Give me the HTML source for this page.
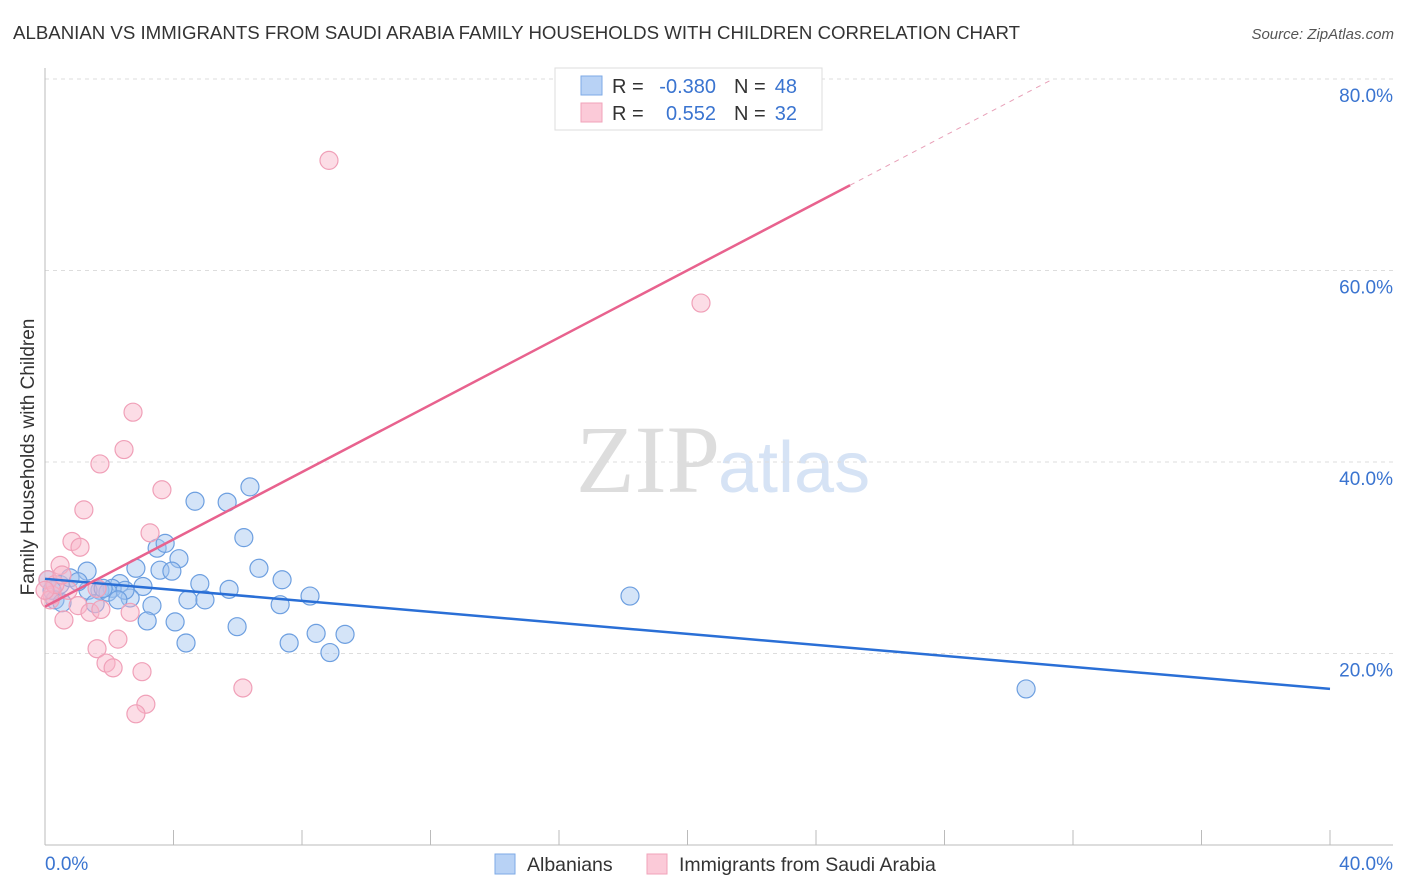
<!DOCTYPE html>
<html><head><meta charset="utf-8"><style>
body{margin:0;background:#fff;font-family:"Liberation Sans",sans-serif}
svg{display:block}
</style></head><body>
<svg id="c" width="1406" height="892">
<text x="13" y="39" font-size="18" textLength="1007" lengthAdjust="spacingAndGlyphs" fill="#333">ALBANIAN VS IMMIGRANTS FROM SAUDI ARABIA FAMILY HOUSEHOLDS WITH CHILDREN CORRELATION CHART</text>
<text x="1394" y="39" font-size="15" fill="#555" font-style="italic" text-anchor="end">Source: ZipAtlas.com</text>
<text x="720" y="492" font-size="96" fill="#ddd" font-family="Liberation Serif,serif" text-anchor="end">ZIP</text>
<text x="718" y="492" font-size="72" fill="#d6e3f5">atlas</text>
<text transform="translate(34,457) rotate(-90)" font-size="19" fill="#333" text-anchor="middle">Family Households with Children</text>
<g id="grid"></g><g id="marks"></g>
<g>
<rect x="555" y="68" width="267" height="62" fill="#fff" stroke="#ddd"/>
<rect x="581" y="76" width="21" height="19" fill="#b8d2f5" stroke="#7eaae6"/>
<rect x="581" y="103" width="21" height="19" fill="#fbcad8" stroke="#f0a3ba"/>
<text x="612" y="93" font-size="20" fill="#333">R =</text>
<text x="716" y="93" font-size="20" fill="#3a74d0" text-anchor="end">-0.380</text>
<text x="734" y="93" font-size="20" fill="#333">N =</text>
<text x="797" y="93" font-size="20" fill="#3a74d0" text-anchor="end">48</text>
<text x="612" y="120" font-size="20" fill="#333">R =</text>
<text x="716" y="120" font-size="20" fill="#3a74d0" text-anchor="end">0.552</text>
<text x="734" y="120" font-size="20" fill="#333">N =</text>
<text x="797" y="120" font-size="20" fill="#3a74d0" text-anchor="end">32</text>
</g>
<g>
<rect x="495" y="854" width="20" height="20" fill="#b8d2f5" stroke="#7eaae6"/>
<text x="527" y="871" font-size="19.5" fill="#333">Albanians</text>
<rect x="647" y="854" width="20" height="20" fill="#fbcad8" stroke="#f0a3ba"/>
<text x="679" y="871" font-size="19.5" fill="#333">Immigrants from Saudi Arabia</text>
</g>
</svg>
<script>
const yTicks=[20,40,60,80];
const xTickLabels=["0.0%","40.0%"];
const blueX=[4.67,5.67,6.38,6.19,3.49,3.74,4.17,2.83,3.58,3.95,6.66,4.82,5.73,7.38,3.05,2.33,2.09,1.71,1.34,0.47,0.78,1.31,1.03,1.56,2.65,3.33,4.45,4.98,7.32,8.25,3.18,4.05,5.98,4.39,7.60,8.44,9.34,8.87,18.21,30.54,0.31,0.22,0.09,0.53,1.96,2.49,1.81,2.27];
const blueY=[35.9,35.8,37.4,32.1,31.0,31.5,29.9,28.9,28.7,28.6,28.9,27.3,26.7,27.7,27.0,27.3,26.8,26.6,26.6,27.2,27.9,28.6,27.5,25.2,25.8,25.0,25.6,25.6,25.1,26.0,23.4,23.3,22.8,21.1,21.1,22.1,22.0,20.1,26.0,16.3,25.6,26.6,27.7,25.3,26.4,26.6,26.8,25.6];
const pinkX=[8.84,20.42,2.74,2.46,1.71,3.64,1.21,3.27,0.84,1.09,0.47,0.09,0.22,0.72,1.62,1.03,1.40,2.65,1.74,0.59,2.27,1.62,1.90,2.12,3.02,6.16,3.14,2.83,0.16,0.31,0.53,0];
const pinkY=[71.5,56.6,45.2,41.3,39.8,37.1,35.0,32.6,31.7,31.1,29.2,27.7,26.1,26.6,26.8,25.0,24.3,24.3,24.6,23.5,21.5,20.5,19.0,18.5,18.1,16.4,14.7,13.7,25.6,27.2,28.2,26.6];
const blueTrend=[27.8,16.3];
const pinkTrend=[24.9,1.756];
const pinkSolidEnd=25.06;
const X=v=>45+v*32.125, Y=v=>845-v*9.575;
const NS="http://www.w3.org/2000/svg";
const g=document.getElementById('grid'), m=document.getElementById('marks');
function el(t,a,p){const e=document.createElementNS(NS,t);for(const k in a)e.setAttribute(k,a[k]);p.appendChild(e);return e;}
yTicks.forEach(t=>{
 const l=el('line',{x1:45,x2:1393,y1:Y(t),y2:Y(t),stroke:'#ddd','stroke-dasharray':'4,4'},g);
 
 
 const tx=el('text',{x:1393,y:Y(t)+23,'font-size':19,fill:'#3a74d0','text-anchor':'end'},g);tx.textContent=t.toFixed(1)+'%';
 
 
});
el('line',{x1:45,x2:45,y1:68,y2:845,stroke:'#bbb'},g);
const xa=el('line',{x1:45,x2:1393,y1:845,y2:845,stroke:'#bbb'},g);


for(let i=1;i<=10;i++)el('line',{x1:X(i*4),x2:X(i*4),y1:830,y2:845,stroke:'#bbb'},g);
const l0=el('text',{x:45,y:870,'font-size':19,fill:'#3a74d0'},g);l0.textContent=xTickLabels[0];


const l1=el('text',{x:1393,y:870,'font-size':19,fill:'#3a74d0','text-anchor':'end'},g);l1.textContent=xTickLabels[1];


function dots(xs,ys,fill,stroke,name){xs.forEach((x,i)=>{const c=el('circle',{cx:X(x),cy:Y(ys[i]),r:9,fill:fill,stroke:stroke,'stroke-width':1.2},m);
 
 });}
dots(blueX,blueY,'rgba(160,196,240,0.45)','#6d9fe0','albanian-point');
dots(pinkX,pinkY,'rgba(248,180,200,0.45)','#f0a0b8','saudi-point');
const bt=el('line',{x1:X(0),y1:Y(blueTrend[0]),x2:X(40),y2:Y(blueTrend[1]),stroke:'#2a6fd6','stroke-width':2.5},m);


const pe=(80-pinkTrend[0])/pinkTrend[1];
const pd=el('line',{x1:X(pinkSolidEnd),y1:Y(pinkTrend[0]+pinkTrend[1]*pinkSolidEnd),x2:X(pe),y2:Y(80),stroke:'#e8a0b8','stroke-width':1,'stroke-dasharray':'5,5'},m);


const pt=el('line',{x1:X(0),y1:Y(pinkTrend[0]),x2:X(pinkSolidEnd),y2:Y(pinkTrend[0]+pinkTrend[1]*pinkSolidEnd),stroke:'#e8628e','stroke-width':2.5},m);


</script>
</body></html>
